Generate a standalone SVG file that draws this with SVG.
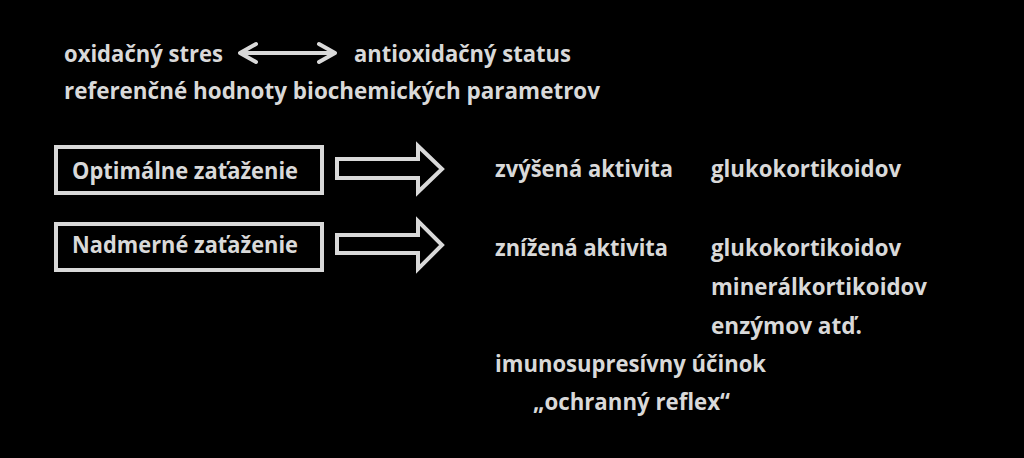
<svg xmlns="http://www.w3.org/2000/svg" width="1024" height="458" viewBox="0 0 1024 458">
<style>
text{font-family:"Open Sans","Noto Sans",sans-serif;font-weight:bold;font-size:23px;fill:#d9d9d9}
.box{fill:none;stroke:#d9d9d9;stroke-width:4}
.blk{fill:none;stroke:#d9d9d9;stroke-width:4;stroke-linejoin:miter}
.dbl{fill:none;stroke:#d9d9d9;stroke-width:4;stroke-linecap:round;stroke-linejoin:round}
</style>
<rect width="1024" height="458" fill="#000"/>
<g id="header">
<text x="64" y="62" textLength="159" lengthAdjust="spacingAndGlyphs">oxidačný stres</text>
<text x="354" y="62" textLength="217" lengthAdjust="spacingAndGlyphs">antioxidačný status</text>
<text x="64" y="99" textLength="536" lengthAdjust="spacingAndGlyphs">referenčné hodnoty biochemických parametrov</text>
</g>
<g id="node-optimalne">
<rect class="box" x="56" y="147" width="266" height="46"/>
<text x="72" y="179" textLength="226" lengthAdjust="spacingAndGlyphs">Optimálne zaťaženie</text>
</g>
<g id="node-nadmerne">
<rect class="box" x="56" y="224" width="266" height="46"/>
<text x="72" y="253" textLength="226" lengthAdjust="spacingAndGlyphs">Nadmerné zaťaženie</text>
</g>
<g id="connectors">
<path class="dbl" d="M241,53 L334,53 M256,44 L240,53 L256,62 M319,44 L335,53 L319,62"/>
<path class="blk" d="M337,159 L418,159 L418,146 L442,169 L418,192 L418,178 L337,178 Z"/>
<path class="blk" d="M337,235 L418,235 L418,221 L442,245 L418,269 L418,253 L337,253 Z"/>
</g>
<g id="node-optimal-result">
<text x="495" y="177" textLength="178" lengthAdjust="spacingAndGlyphs">zvýšená aktivita</text>
<text x="711" y="177" textLength="190" lengthAdjust="spacingAndGlyphs">glukokortikoidov</text>
</g>
<g id="node-excess-result">
<text x="495" y="256" textLength="173" lengthAdjust="spacingAndGlyphs">znížená aktivita</text>
<text x="711" y="256" textLength="190" lengthAdjust="spacingAndGlyphs">glukokortikoidov</text>
<text x="711" y="295" textLength="216" lengthAdjust="spacingAndGlyphs">minerálkortikoidov</text>
<text x="711" y="334" textLength="151" lengthAdjust="spacingAndGlyphs">enzýmov atď.</text>
<text x="495" y="372" textLength="271" lengthAdjust="spacingAndGlyphs">imunosupresívny účinok</text>
<text x="533" y="410" textLength="197" lengthAdjust="spacingAndGlyphs">„ochranný reflex“</text>
</g>
</svg>
